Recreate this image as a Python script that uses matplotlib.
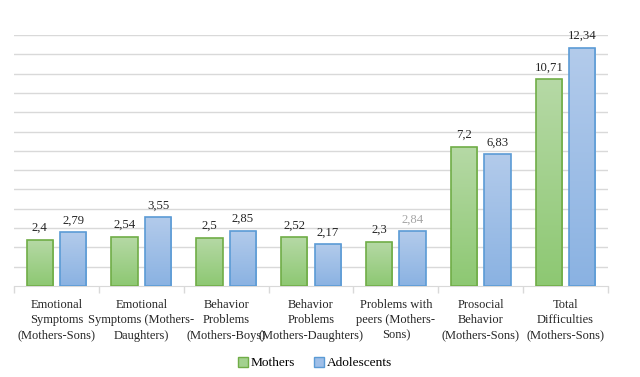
import numpy as np
import matplotlib.pyplot as plt
from matplotlib.colors import LinearSegmentedColormap
from matplotlib.patches import Patch

categories = [
    "Emotional\nSymptoms\n(Mothers-Sons)",
    "Emotional\nSymptoms (Mothers-\nDaughters)",
    "Behavior\nProblems\n(Mothers-Boys)",
    "Behavior\nProblems\n(Mothers-Daughters)",
    "Problems with\npeers (Mothers-\nSons)",
    "Prosocial\nBehavior\n(Mothers-Sons)",
    "Total\nDifficulties\n(Mothers-Sons)",
]
mothers = [2.4, 2.54, 2.5, 2.52, 2.3, 7.2, 10.71]
adolescents = [2.79, 3.55, 2.85, 2.17, 2.84, 6.83, 12.34]
mothers_labels = ["2,4", "2,54", "2,5", "2,52", "2,3", "7,2", "10,71"]
adolescents_labels = ["2,79", "3,55", "2,85", "2,17", "2,84", "6,83", "12,34"]

plt.rcParams['font.family'] = ['Liberation Serif', 'DejaVu Serif']

fig = plt.figure(figsize=(6.4, 3.77), dpi=100)
ax = fig.add_axes([14 / 640, 1 - 286 / 377, 594 / 640, 251 / 377])

x = np.arange(len(categories))
w = 0.31
off = 0.197

green_cmap = LinearSegmentedColormap.from_list("g", ["#8dc872", "#b6d9a6"])
blue_cmap = LinearSegmentedColormap.from_list("b", ["#8ab2e2", "#b3cbeb"])
grad = np.linspace(0, 1, 256).reshape(-1, 1)

def draw_bars(xs, vals, cmap, edge):
    bars = ax.bar(xs, vals, width=w, facecolor="none", edgecolor=edge,
                  linewidth=1.2, zorder=3)
    for b in bars:
        x0, y0 = b.get_x(), b.get_y()
        im = ax.imshow(grad, cmap=cmap, origin="lower", aspect="auto",
                       extent=[x0, x0 + b.get_width(), y0, y0 + b.get_height()],
                       zorder=2)
        im.set_clip_path(b)
    return bars

draw_bars(x - off, mothers, green_cmap, "#70ad47")
draw_bars(x + off, adolescents, blue_cmap, "#5b9bd5")

for i in range(len(categories)):
    ax.text(x[i] - off, mothers[i] + 0.3, mothers_labels[i], ha="center",
            va="bottom", fontsize=9.2, color="#262626")
    col = "#a6a6a6" if i == 4 else "#262626"
    ax.text(x[i] + off, adolescents[i] + 0.3, adolescents_labels[i], ha="center",
            va="bottom", fontsize=9.2, color=col)

ax.set_xlim(-0.5, len(categories) - 0.5)
ax.set_ylim(0, 13)
ax.set_yticks(np.arange(1, 14))
ax.yaxis.grid(True, color="#d9d9d9", linewidth=1)
ax.set_axisbelow(True)
ax.tick_params(axis="y", left=False, labelleft=False)

ax.set_xticks(x)
ax.set_xticklabels(categories, fontsize=9, color="#262626", linespacing=1.4)
ax.tick_params(axis="x", length=0, pad=9)
ax.set_xticks(np.arange(-0.5, len(categories)), minor=True)
ax.tick_params(axis="x", which="minor", length=5, color="#d9d9d9", width=1)

for s in ["top", "right", "left"]:
    ax.spines[s].set_visible(False)
ax.spines["bottom"].set_color("#d9d9d9")

handles = [Patch(facecolor="#a3d18f", edgecolor="#70ad47", label="Mothers"),
           Patch(facecolor="#9fbfe8", edgecolor="#5b9bd5", label="Adolescents")]
fig.legend(handles=handles, loc="center", bbox_to_anchor=(315 / 640, 1 - 363 / 377),
           ncol=2, frameon=False, fontsize=9.6, handlelength=0.75, handleheight=0.75,
           handletextpad=0.25, columnspacing=1.4)

fig.savefig("out.png", dpi=100)
